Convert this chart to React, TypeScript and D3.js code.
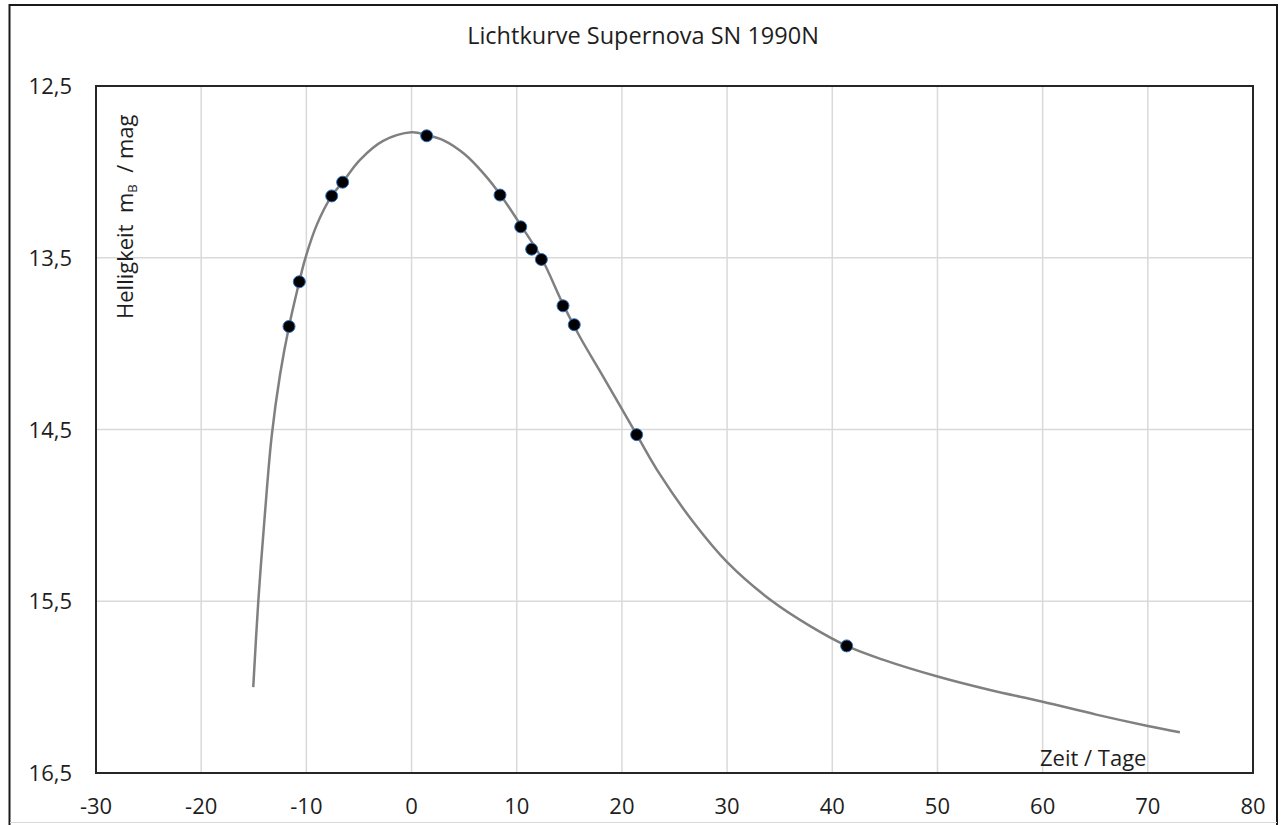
import React from 'react';
import * as d3 from 'd3';

// measured points (days relative to max, B magnitude)
const obsDays = [-11.65, -10.67, -7.59, -6.55, 1.44, 8.41, 10.38, 11.42, 12.34, 14.4, 15.47, 21.4, 41.37];
const obsMag = [13.9, 13.64, 13.14, 13.06, 12.79, 13.135, 13.32, 13.45, 13.51, 13.78, 13.89, 14.53, 15.76];

// fitted light curve
const fitDays = [-15.05, -14.57, -13.94, -13.3, -12.5, -11.65, -10.67, -10.13, -9.02, -7.59, -6.55, -4.9, -2.7, 0, 1.44, 3, 5, 7, 8.41, 10.38, 12.34, 14.4, 16, 18.2, 21.4, 23.6, 26.8, 30.05, 34.4, 37.9, 41.37, 44.8, 50.1, 55, 60, 65.1, 70, 73.05];
const fitMag = [16.0, 15.5, 14.99, 14.54, 14.18, 13.9, 13.64, 13.51, 13.31, 13.14, 13.06, 12.93, 12.82, 12.77, 12.785, 12.815, 12.895, 13.02, 13.13, 13.31, 13.5, 13.77, 13.96, 14.19, 14.53, 14.76, 15.04, 15.275, 15.505, 15.645, 15.76, 15.84, 15.94, 16.017, 16.085, 16.16, 16.226, 16.263];

const xTicks = [-30, -20, -10, 0, 10, 20, 30, 40, 50, 60, 70, 80];
const yTicks = [12.5, 13.5, 14.5, 15.5, 16.5];

const title = 'Lichtkurve Supernova SN 1990N';
const xTitle = 'Zeit / Tage';

const W = 1282;
const H = 825;
const plot = { left: 96, top: 86, right: 1253, bottom: 773 };
const font = "'Open Sans', 'Noto Sans', sans-serif";
const textColor = '#1e1e1e';

export default function App() {
  const x = d3.scaleLinear().domain([-30, 80]).range([plot.left, plot.right]);
  const y = d3.scaleLinear().domain([12.5, 16.5]).range([plot.top, plot.bottom]);

  const fit = fitDays.map((d, i) => [d, fitMag[i]] as [number, number]);
  const line = d3
    .line<[number, number]>()
    .x(d => x(d[0]))
    .y(d => y(d[1]))
    .curve(d3.curveCatmullRom.alpha(0.5));

  const fmt = (v: number) => String(v).replace('.', ',');

  return (
    <svg
      width={W}
      height={H}
      style={{ position: 'absolute', left: 0, top: 0, background: '#fff' }}
      fontFamily={font}
    >
      <rect x={9.5} y={5} width={1267.5} height={830} fill="#fff" stroke="#1a1a1a" strokeWidth={2} />
      <line x1={10} x2={1277} y1={822.5} y2={822.5} stroke="#d9d9d9" strokeWidth={1} />

      <text x={643} y={44} textAnchor="middle" fontSize={23.5} fill={textColor}>
        {title}
      </text>

      {/* grid */}
      {xTicks.map(t => (
        <line key={'gx' + t} x1={x(t)} x2={x(t)} y1={plot.top} y2={plot.bottom} stroke="#d9d9d9" strokeWidth={1.5} />
      ))}
      {yTicks.map(t => (
        <line key={'gy' + t} x1={plot.left} x2={plot.right} y1={y(t)} y2={y(t)} stroke="#d9d9d9" strokeWidth={1.5} />
      ))}

      <rect
        x={plot.left}
        y={plot.top}
        width={plot.right - plot.left}
        height={plot.bottom - plot.top}
        fill="none"
        stroke="#262626"
        strokeWidth={2}
      />

      {/* tick labels */}
      {xTicks.map(t => (
        <text key={'tx' + t} x={x(t)} y={814} textAnchor="middle" fontSize={22} fill={textColor}>
          {t}
        </text>
      ))}
      {yTicks.map(t => (
        <text key={'ty' + t} x={72} y={y(t) + 8} textAnchor="end" fontSize={22} fill={textColor}>
          {fmt(t)}
        </text>
      ))}

      {/* axis titles */}
      <text x={1040} y={766} fontSize={22} fill={textColor}>
        {xTitle}
      </text>
      <text
        transform="translate(133,319) rotate(-90)"
        fontSize={22}
        fill={textColor}
        style={{ whiteSpace: 'pre' }}
      >
        {'Helligkeit  m'}
        <tspan fontSize={13} dy={4}>B</tspan>
        <tspan dy={-4}>{'  / mag'}</tspan>
      </text>

      <path d={line(fit) ?? ''} fill="none" stroke="#808080" strokeWidth={2.5} />

      {obsDays.map((d, i) => (
        <circle key={'p' + i} cx={x(d)} cy={y(obsMag[i])} r={6} fill="#000" stroke="#2e6fc0" strokeWidth={1} />
      ))}
    </svg>
  );
}
